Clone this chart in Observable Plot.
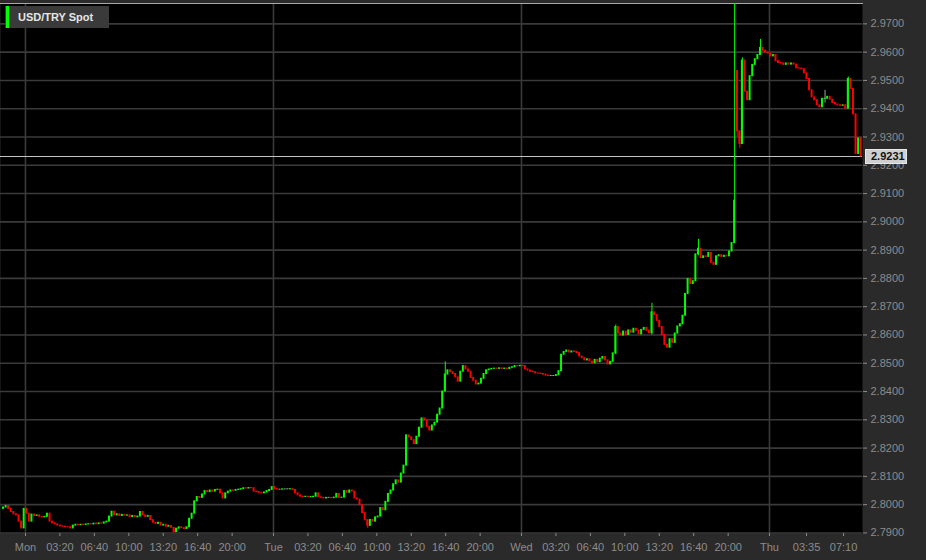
<!DOCTYPE html>
<html>
<head>
<meta charset="utf-8">
<script src="https://cdn.jsdelivr.net/npm/d3@7"></script>
<script src="https://cdn.jsdelivr.net/npm/@observablehq/plot@0.6"></script>
<style>
  html, body { margin: 0; padding: 0; background: #2a2a2a; }
  #wrap { position: relative; width: 926px; height: 560px; overflow: hidden; }
  #wrap svg { display: block; }
  .legend { position: absolute; left: 5px; top: 6px; width: 104px; height: 22px; background: #3a3a3a; z-index: 2;
            font: bold 11px "Liberation Sans", Arial, sans-serif; color: #e6e6e6; line-height: 22px; box-sizing: border-box; padding-left: 13px; }
  .legend .bar { position: absolute; left: 1px; top: 0; width: 3px; height: 22px; background: #00ff00; }
  .pricebox { position: absolute; left: 865px; width: 42px; height: 15px; background: #cfcfcf; border: 1px solid #e8e8e8; box-sizing: border-box; z-index: 2;
              font: bold 11px "Liberation Sans", Arial, sans-serif; color: #111; line-height: 13px; padding-left: 5px; }
</style>
</head>
<body>
<div id="wrap"></div>
<script>
// ---- data: 15-minute USD/TRY closes ----
const seriesName = "USD/TRY Spot";
const candleStart = "2015-08-16T21:45:00Z";
const candleMinutes = 15;
const firstOpen = 2.7985;

const sunCloses = [2.7990, 2.7995, 2.7985, 2.7974, 2.7966, 2.7962, 2.7940, 2.7916, 2.7985];
const monCloses = [
  2.7968, 2.7940, 2.7965, 2.7960, 2.7962, 2.7957, 2.7955, 2.7957, 2.7968, 2.7940,
  2.7934, 2.7930, 2.7926, 2.7923, 2.7922, 2.7921, 2.7920, 2.7916, 2.7926, 2.7929,
  2.7927, 2.7929, 2.7928, 2.7930, 2.7931, 2.7930, 2.7933, 2.7931, 2.7934, 2.7933,
  2.7937, 2.7940, 2.7958, 2.7975, 2.7962, 2.7966, 2.7960, 2.7964, 2.7961, 2.7962,
  2.7956, 2.7960, 2.7955, 2.7958, 2.7974, 2.7962, 2.7957, 2.7960, 2.7945, 2.7936,
  2.7932, 2.7936, 2.7926, 2.7929, 2.7922, 2.7925, 2.7918, 2.7903, 2.7915, 2.7920,
  2.7917, 2.7914, 2.7920, 2.7950, 2.7968, 2.8012, 2.8027, 2.8024, 2.8036, 2.8048,
  2.8044, 2.8050, 2.8046, 2.8052, 2.8053, 2.8040, 2.8022, 2.8040, 2.8046, 2.8050,
  2.8049, 2.8052, 2.8053, 2.8055, 2.8058, 2.8057, 2.8059, 2.8058, 2.8046, 2.8044,
  2.8042, 2.8040, 2.8043, 2.8048, 2.8052, 2.8062
];
const tueCloses = [
  2.8055, 2.8053, 2.8053, 2.8054, 2.8054, 2.8054, 2.8055, 2.8052, 2.8040, 2.8033,
  2.8028, 2.8027, 2.8028, 2.8026, 2.8027, 2.8028, 2.8040, 2.8026, 2.8024, 2.8022,
  2.8024, 2.8024, 2.8023, 2.8025, 2.8038, 2.8024, 2.8025, 2.8048, 2.8042, 2.8050,
  2.8046, 2.8022, 2.8018, 2.7998, 2.7970, 2.7945, 2.7925, 2.7946, 2.7940, 2.7955,
  2.7958, 2.7988, 2.7980, 2.8010, 2.8038, 2.8050, 2.8072, 2.8086, 2.8078, 2.8110,
  2.8138, 2.8245, 2.8238, 2.8228, 2.8214, 2.8240, 2.8272, 2.8305, 2.8298, 2.8275,
  2.8262, 2.8280, 2.8290, 2.8318, 2.8340, 2.8400, 2.8460, 2.8475, 2.8468, 2.8462,
  2.8450, 2.8435, 2.8470, 2.8490, 2.8478, 2.8470, 2.8448, 2.8438, 2.8425, 2.8428,
  2.8445, 2.8462, 2.8475, 2.8478, 2.8480, 2.8481, 2.8480, 2.8482, 2.8480, 2.8481,
  2.8479, 2.8484, 2.8486, 2.8490, 2.8489, 2.8491
];
const wedCloses = [
  2.8490, 2.8478, 2.8474, 2.8470, 2.8468, 2.8464, 2.8463, 2.8462, 2.8460, 2.8456,
  2.8455, 2.8455, 2.8455, 2.8458, 2.8472, 2.8530, 2.8540, 2.8545, 2.8538, 2.8542,
  2.8540, 2.8536, 2.8524, 2.8518, 2.8510, 2.8514, 2.8506, 2.8500, 2.8512, 2.8504,
  2.8516, 2.8522, 2.8510, 2.8496, 2.8505, 2.8535, 2.8628, 2.8605, 2.8598, 2.8612,
  2.8600, 2.8616, 2.8608, 2.8622, 2.8615, 2.8602, 2.8618, 2.8625, 2.8615, 2.8606,
  2.8680, 2.8670, 2.8650, 2.8628, 2.8600, 2.8565, 2.8555, 2.8585, 2.8572, 2.8605,
  2.8630, 2.8638, 2.8668, 2.8745, 2.8798, 2.8780, 2.8790, 2.8885, 2.8905, 2.8872,
  2.8878, 2.8876, 2.8890, 2.8855, 2.8848, 2.8878, 2.8882, 2.8876, 2.8880, 2.8878,
  2.8895, 2.8925, 2.9075, 2.9320, 2.9275, 2.9570, 2.9460, 2.9430, 2.9515, 2.9555,
  2.9575, 2.9590, 2.9615, 2.9605, 2.9598, 2.9595
];
const thuCloses = [
  2.9585, 2.9590, 2.9568, 2.9562, 2.9560, 2.9555, 2.9560, 2.9556, 2.9560, 2.9556,
  2.9543, 2.9542, 2.9540, 2.9525, 2.9505, 2.9465, 2.9440, 2.9430, 2.9412, 2.9405,
  2.9435, 2.9435, 2.9442, 2.9432, 2.9420, 2.9415, 2.9412, 2.9410, 2.9412, 2.9400,
  2.9505, 2.9470, 2.9380, 2.9240, 2.9295, 2.9231
];
// candles whose open gaps away from the previous close: [candle index, open]
const openGaps = [[284, 2.9534]];
// visible wicks: [candle index, low, high]
const wickRows = [
  [66, 2.7900, 2.7918], [141, 2.7915, 2.7946], [171, 2.8400, 2.8505],
  [237, 2.8530, 2.8635], [251, 2.8600, 2.8712], [269, 2.8880, 2.8938],
  [283, 2.8925, 2.9850], [284, 2.9300, 2.9534], [285, 2.9260, 2.9320],
  [286, 2.9275, 2.9580], [293, 2.9590, 2.9645], [318, 2.9420, 2.9465],
  [327, 2.9400, 2.9512]
];
const lastPrice = 2.9231;

// ---- axes ----
const yTicks = [2.79, 2.80, 2.81, 2.82, 2.83, 2.84, 2.85, 2.86, 2.87, 2.88, 2.89,
                2.90, 2.91, 2.92, 2.93, 2.94, 2.95, 2.96, 2.97];
const yDomain = [2.7898, 2.9772];
const xDomain = ["2015-08-16T21:35:00Z", "2015-08-20T09:00:00Z"];
const dayStarts = ["2015-08-17T00:00:00Z", "2015-08-18T00:00:00Z", "2015-08-19T00:00:00Z", "2015-08-20T00:00:00Z"];
const xTickTimes = [
  "2015-08-17T00:00:00Z", "2015-08-17T03:20:00Z", "2015-08-17T06:40:00Z", "2015-08-17T10:00:00Z",
  "2015-08-17T13:20:00Z", "2015-08-17T16:40:00Z", "2015-08-17T20:00:00Z",
  "2015-08-18T00:00:00Z", "2015-08-18T03:20:00Z", "2015-08-18T06:40:00Z", "2015-08-18T10:00:00Z",
  "2015-08-18T13:20:00Z", "2015-08-18T16:40:00Z", "2015-08-18T20:00:00Z",
  "2015-08-19T00:00:00Z", "2015-08-19T03:20:00Z", "2015-08-19T06:40:00Z", "2015-08-19T10:00:00Z",
  "2015-08-19T13:20:00Z", "2015-08-19T16:40:00Z", "2015-08-19T20:00:00Z",
  "2015-08-20T00:00:00Z", "2015-08-20T03:35:00Z", "2015-08-20T07:10:00Z"
];
const xTickLabels = [
  "Mon", "03:20", "06:40", "10:00", "13:20", "16:40", "20:00",
  "Tue", "03:20", "06:40", "10:00", "13:20", "16:40", "20:00",
  "Wed", "03:20", "06:40", "10:00", "13:20", "16:40", "20:00",
  "Thu", "03:35", "07:10"
];

const UP = "#00ff00", DOWN = "#ff0000", FLAT = "#a0a0a0";

// ---- build table ----
const closes = [...sunCloses, ...monCloses, ...tueCloses, ...wedCloses, ...thuCloses];
const t0 = Date.parse(candleStart), step = candleMinutes * 60000;
const gapMap = new Map(openGaps);
const candles = closes.map((close, i) => {
  const open = gapMap.has(i) ? gapMap.get(i) : (i === 0 ? firstOpen : closes[i - 1]);
  return {
    start: new Date(t0 + i * step),
    end: new Date(t0 + (i + 1) * step),
    mid: new Date(t0 + (i + 0.5) * step),
    open, close,
    color: close > open ? UP : close < open ? DOWN : FLAT
  };
});
const wicks = wickRows.map(([i, low, high]) => ({mid: candles[i].mid, low, high, color: candles[i].color}));
const labelMap = new Map(xTickTimes.map((d, i) => [Date.parse(d), xTickLabels[i]]));
const GRID = "#3a3a3a";

const chart = Plot.plot({
  width: 926,
  height: 560,
  marginLeft: 0,
  marginRight: 64,
  marginTop: 3,
  marginBottom: 27,
  style: {background: "#2a2a2a", color: "#8c8c8c", fontFamily: "'Liberation Sans', Arial, sans-serif", fontSize: "11px"},
  x: {type: "utc", domain: xDomain.map(d => new Date(d))},
  y: {domain: yDomain},
  color: {type: "identity"},
  marks: [
    Plot.frame({fill: "#000000", stroke: null}),
    Plot.gridY(yTicks, {stroke: GRID, strokeOpacity: 1, strokeWidth: 1.6}),
    Plot.gridX(dayStarts.map(d => new Date(d)), {stroke: GRID, strokeOpacity: 1, strokeWidth: 1.6}),
    Plot.frame({anchor: "top", stroke: "#a8a8a8"}),
    Plot.ruleY([lastPrice], {stroke: "#c4c4c4", strokeWidth: 1.2}),
    Plot.ruleX(wicks, {x: "mid", y1: "low", y2: "high", stroke: "color", strokeWidth: 1, clip: true}),
    Plot.rect(candles, {x1: "start", x2: "end", y1: "open", y2: "close", fill: "color",
                        insetLeft: 0.3, insetRight: 0.3, insetTop: -0.5, insetBottom: -0.5}),
    Plot.axisY(yTicks, {anchor: "right", tickSize: 4, tickPadding: 4, label: null,
                        tickFormat: d => d.toFixed(4), color: "#8c8c8c"}),
    Plot.axisX(xTickTimes.map(d => new Date(d)), {anchor: "bottom", tickSize: 3, tickPadding: 7, label: null,
                        tickFormat: d => labelMap.get(+d), color: "#8c8c8c"})
  ]
});

const wrap = document.getElementById("wrap");
wrap.appendChild(chart);

const legend = document.createElement("div");
legend.className = "legend";
legend.innerHTML = '<span class="bar"></span>';
legend.appendChild(document.createTextNode(seriesName));
wrap.appendChild(legend);

const box = document.createElement("div");
box.className = "pricebox";
box.style.top = (chart.scale("y").apply(lastPrice) - 7.5) + "px";
box.textContent = lastPrice.toFixed(4);
wrap.appendChild(box);
</script>
</body>
</html>
